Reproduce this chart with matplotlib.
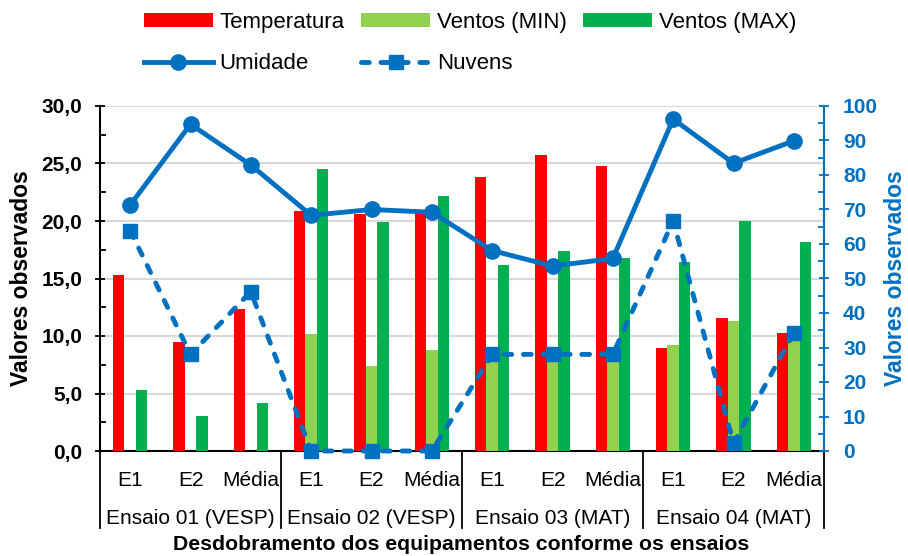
import numpy as np
import matplotlib.pyplot as plt
from matplotlib.transforms import blended_transform_factory
from matplotlib.ticker import MultipleLocator, FuncFormatter

plt.rcParams['font.family'] = ['Liberation Sans', 'DejaVu Sans']

# dados por ensaio / equipamento
grupos = ['Ensaio 01 (VESP)', 'Ensaio 02 (VESP)', 'Ensaio 03 (MAT)', 'Ensaio 04 (MAT)']
equip = ['E1', 'E2', 'Média']
temperatura = [15.3, 9.45, 12.35, 20.9, 20.6, 20.6, 23.8, 25.75, 24.75, 9.0, 11.6, 10.3]
ventos_min = [0.0, 0.0, 0.0, 10.15, 7.4, 8.8, 8.5, 8.0, 8.2, 9.2, 11.3, 9.9]
ventos_max = [5.3, 3.05, 4.2, 24.5, 19.9, 22.2, 16.2, 17.4, 16.8, 16.4, 20.0, 18.2]
umidade = [71.3, 94.7, 82.9, 68.3, 70.0, 69.2, 58.1, 53.6, 55.8, 96.2, 83.4, 89.9]
nuvens = [63.9, 28.0, 46.2, 0.0, 0.0, 0.0, 28.0, 28.0, 28.0, 66.7, 2.2, 34.3]

azul = '#0070C0'
fs = 15

x = np.arange(len(temperatura))
w = 0.19

fig = plt.figure(figsize=(9.08, 5.56), dpi=100)
ax = fig.add_axes([100 / 908, 105 / 556, 724 / 908, 345 / 556])
ax2 = ax.twinx()

ax.bar(x - w, temperatura, w, color='#FF0000', label='Temperatura', zorder=3)
ax.bar(x, ventos_min, w, color='#92D050', label='Ventos (MIN)', zorder=3)
ax.bar(x + w, ventos_max, w, color='#00B050', label='Ventos (MAX)', zorder=3)

ax2.plot(x, umidade, color=azul, lw=3.5, marker='o', ms=11, label='Umidade')
ax2.plot(x, nuvens, color=azul, lw=3.5, ls=(0, (1.6, 2.4)), dash_capstyle='round',
         marker='s', ms=10, label='Nuvens', clip_on=False)

# eixo esquerdo
ax.set_xlim(-0.5, len(x) - 0.5)
ax.set_ylim(0, 30)
ax.yaxis.set_major_locator(MultipleLocator(5))
ax.yaxis.set_minor_locator(MultipleLocator(2.5))
ax.yaxis.set_major_formatter(FuncFormatter(lambda v, p: f'{v:.1f}'.replace('.', ',')))
ax.tick_params(axis='y', which='major', direction='inout', length=7.5, width=1.3,
               labelsize=fs, pad=9)
ax.tick_params(axis='y', which='minor', direction='in', length=4, width=1.3)
for t in ax.get_yticklabels():
    t.set_fontweight('bold')
ax.grid(axis='y', color='#d9d9d9', lw=1.5, zorder=0)
ax.set_axisbelow(True)
ax.set_ylabel('Valores observados', fontsize=16.5, fontweight='bold')
ax.yaxis.set_label_coords(-0.093, 0.5)

# eixo direito
ax2.set_ylim(0, 100)
ax2.yaxis.set_major_locator(MultipleLocator(10))
ax2.yaxis.set_minor_locator(MultipleLocator(5))
ax2.tick_params(axis='y', which='major', direction='inout', length=7.5, width=1.3,
                colors=azul, labelsize=fs, pad=10)
ax2.tick_params(axis='y', which='minor', direction='in', length=4, width=1.3, colors=azul)
for t in ax2.get_yticklabels():
    t.set_fontweight('bold')
ax2.set_ylabel('Valores observados', fontsize=16.5, fontweight='bold', color=azul)
ax2.yaxis.set_label_coords(1.083, 0.5)

for a in (ax, ax2):
    a.spines['top'].set_visible(False)
    for s in ('left', 'bottom', 'right'):
        a.spines[s].set_linewidth(1.5)
ax2.spines['right'].set_color(azul)
ax2.spines['left'].set_visible(False)
ax2.spines['bottom'].set_visible(False)
ax.spines['right'].set_visible(False)

# rótulos das categorias em dois níveis
ax.set_xticks(x)
ax.set_xticklabels([])
ax.tick_params(axis='x', length=0)

trans = blended_transform_factory(ax.transData, ax.transAxes)
for i, xi in enumerate(x):
    ax.text(xi, -29 / 345, equip[i % 3], transform=trans, ha='center', va='center', fontsize=fs)
for i, g in enumerate(grupos):
    ax.text(3 * i + 1, -68 / 345, g, transform=trans, ha='center', va='center', fontsize=fs)
for b in np.arange(len(grupos) + 1) * 3 - 0.5:
    ax.plot([b, b], [0, -77 / 345], transform=trans, color='black', lw=1.3, clip_on=False)

fig.text(461 / 908, 1 - 545 / 556, 'Desdobramento dos equipamentos conforme os ensaios',
         ha='center', va='center', fontsize=15.3, fontweight='bold')

# legenda combinada
h1, l1 = ax.get_legend_handles_labels()
h2, l2 = ax2.get_legend_handles_labels()
handles = [h1[0], h2[0], h1[1], h2[1], h1[2]]
labels = [l1[0], l2[0], l1[1], l2[1], l1[2]]
fig.legend(handles, labels, ncol=3, loc='upper left', bbox_to_anchor=(144 / 908, 1 - 12 / 556),
           frameon=False, fontsize=16, handlelength=3.1, handleheight=0.55,
           handletextpad=0.3, columnspacing=0.75, labelspacing=0.9, borderpad=0,
           borderaxespad=0)

fig.savefig('out.png', dpi=100)
